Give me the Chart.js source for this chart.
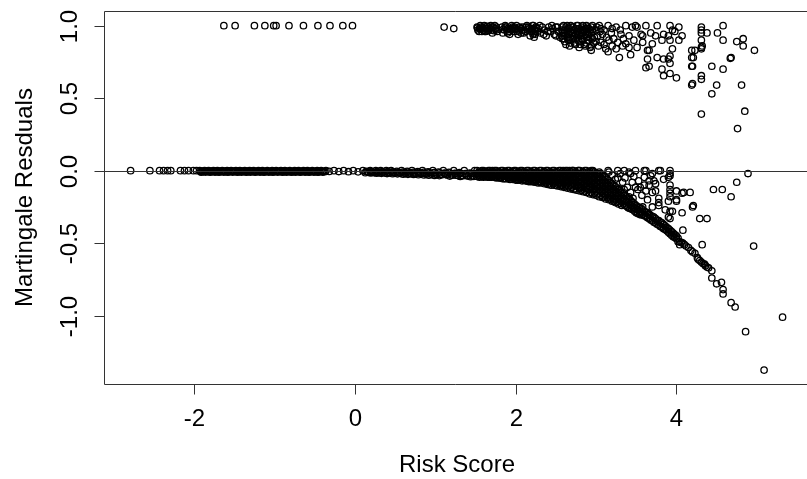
<!DOCTYPE html>
<html>
<head>
<meta charset="utf-8">
<script src="https://cdn.jsdelivr.net/npm/chart.js@4"></script>
<style>
html, body { margin: 0; padding: 0; background: #fff; }
</style>
</head>
<body>
<canvas id="plot" width="807" height="479"></canvas>
<script>
// axis ticks and titles
var xTicks = [-2, 0, 2, 4];
var yTicks = [-1.0, -0.5, 0.0, 0.5, 1.0];
var xTitle = "Risk Score";
var yTitle = "Martingale Resduals";

// points, [risk score, residual]
// events with residual near 1, low scores
var topRow = [[-1.63,1],[-1.49,1],[-1.25,1],[-1.12,1],[-1.01,1],[-0.98,1],[-0.82,1],[-0.64,1],
  [-0.46,1],[-0.31,1],[-0.15,1],[-0.03,1],[1.11,0.99],[1.23,0.98]];

// dense block of events 1.5 .. 3.5
var topCluster = [[1.52,0.99],[1.55,0.98],[1.57,0.99],[1.6,0.97],[1.62,0.99],[1.64,0.98],[1.67,0.99],
  [1.7,0.97],[1.72,0.99],[1.75,0.98],[1.77,0.96],
  [1.83,0.99],[1.86,0.97],[1.88,0.99],[1.9,0.95],[1.93,0.98],[1.96,0.99],[1.98,0.96],[2.0,0.98],
  [2.03,0.94],[2.05,0.99],[2.08,0.97],[2.1,0.95],[2.13,0.99],[2.15,0.97],[2.18,0.93],
  [2.21,1.0],[2.21,0.97],[2.22,0.95],[2.23,0.92],[2.25,0.99],[2.25,0.96],
  [2.28,0.98],[2.31,0.95],[2.33,0.99],[2.36,0.97],[2.38,0.93],[2.41,0.99],[2.43,0.96],[2.46,0.98],
  [2.48,0.94],[2.5,0.99],[2.53,0.96],[2.55,0.92],
  [2.58,0.99],[2.58,0.95],[2.58,0.91],[2.61,0.97],[2.61,0.93],[2.61,0.89],
  [2.64,1.0],[2.64,0.96],[2.64,0.92],[2.67,0.98],[2.67,0.94],[2.67,0.9],[2.67,0.86],
  [2.7,0.99],[2.7,0.95],[2.7,0.91],[2.73,0.97],[2.73,0.93],[2.73,0.88],
  [2.76,1.0],[2.76,0.96],[2.76,0.92],[2.79,0.98],[2.79,0.94],[2.79,0.89],[2.79,0.85],
  [2.82,0.99],[2.82,0.95],[2.82,0.91],[2.85,0.97],[2.85,0.93],[2.85,0.87],
  [2.88,1.0],[2.88,0.96],[2.88,0.92],[2.88,0.88],[2.91,0.98],[2.91,0.94],[2.91,0.9],
  [2.94,0.99],[2.94,0.95],[2.94,0.86],[2.94,0.83],
  [3.0,0.97],[3.02,0.93],[3.0,0.89],[3.03,0.86],[2.98,0.92],[3.05,0.96],
  [3.04,1.0],[3.15,1.0],[3.25,0.99],[3.37,1.0],[3.45,0.99],[3.08,0.94],[3.19,0.95],[3.31,0.94],
  [3.41,0.93],[3.06,0.885],[3.16,0.9],[3.27,0.885],[3.37,0.875],[3.47,0.9],[3.12,0.84],[3.25,0.84],
  [3.41,0.85],[3.29,0.78],[3.43,0.8],
  [3.51,0.99],[3.62,1.0],[3.76,1.0],[3.92,1.0],[4.03,0.99],[3.56,0.94],[3.68,0.95],[3.84,0.94],
  [3.95,0.97],[4.07,0.93],[3.58,0.885],[3.7,0.875],[3.82,0.9],[3.92,0.9],[4.03,0.9],[3.51,0.85],
  [3.66,0.83],[3.49,1.0],[3.58,0.93],[3.74,0.93],[3.9,0.93],[3.98,0.96]];

// second and third layers of the same block, where it prints solid
var topClusterFill = [[1.53,0.97],[1.56,1.0],[1.58,0.96],[1.61,1.0],[1.63,0.96],[1.66,0.97],
  [1.69,1.0],[1.71,0.95],[1.74,1.0],[1.76,0.99],
  [1.84,0.95],[1.87,1.0],[1.89,0.97],[1.92,0.96],[1.95,1.0],[1.97,0.98],[2.01,1.0],[2.04,0.97],
  [2.07,0.95],[2.09,0.99],[2.12,0.96],[2.14,1.0],[2.17,0.98],
  [2.2,0.98],[2.22,1.0],[2.24,0.94],[2.27,0.96],[2.3,1.0],[2.35,0.94],[2.4,0.96],[2.45,1.0],
  [2.52,0.99],[2.5,0.93],
  [2.575,0.97],[2.575,0.93],[2.595,1.0],[2.6,0.95],[2.6,0.91],[2.625,0.99],[2.625,0.95],[2.625,0.87],
  [2.655,0.98],[2.655,0.94],[2.655,0.9],[2.685,1.0],[2.685,0.96],[2.685,0.88],[2.715,0.99],
  [2.715,0.95],[2.715,0.91],[2.745,0.98],[2.745,0.94],[2.745,0.87],[2.775,1.0],[2.775,0.96],
  [2.775,0.9],[2.805,0.97],[2.805,0.93],[2.805,0.87],[2.835,1.0],[2.835,0.95],[2.835,0.9],
  [2.865,0.98],[2.865,0.94],[2.865,0.86],[2.895,0.99],[2.895,0.95],[2.895,0.9],[2.925,0.97],
  [2.925,0.92],[2.925,0.85],[2.955,1.0],[2.955,0.97],[2.955,0.91],[2.97,0.88],
  [3.01,0.99],[3.06,0.98],[3.1,0.97],[3.13,0.92],[3.2,0.98],[3.22,0.91],[3.3,0.97],[3.34,0.91],
  [3.1,0.87],[3.2,0.86],[3.33,0.86],[3.15,0.82],
  [1.525,0.985],[1.545,0.96],[1.565,0.975],[1.59,0.985],[1.615,0.96],[1.645,0.995],[1.655,0.965],
  [1.68,0.98],[1.705,0.99],[1.73,0.965],[1.755,0.97],[1.845,0.975],[1.875,0.99],[1.905,0.98],
  [1.925,0.94],[1.945,0.97],[1.985,0.99],[2.02,0.96],[2.06,0.98],[2.1,0.97],[2.16,0.99],
  [2.19,0.96],[2.215,0.94],[2.235,0.975],[2.26,0.985]];

// events spreading down at high scores
var topScatter = [[3.64,0.83],[3.76,0.78],[3.66,0.72],[3.62,0.71],[3.84,0.77],[3.92,0.74],[3.82,0.7],
  [3.84,0.655],[3.92,0.67],[4.0,0.64],[3.95,0.84],[3.92,0.79],[3.64,0.77],[3.9,0.77],
  [4.19,0.83],[4.19,0.78],[4.19,0.72],
  [4.58,1.0],[4.31,0.99],[4.31,0.97],[4.31,0.95],[4.31,0.9],[4.31,0.85],[4.31,0.84],[4.32,0.86],
  [4.38,0.95],[4.51,0.95],[4.58,0.9],[4.75,0.89],[4.83,0.91],[4.83,0.86],[4.97,0.83],[4.23,0.83],
  [4.21,0.78],[4.2,0.72],[4.68,0.78],[4.67,0.775],[4.44,0.72],[4.58,0.7],[4.31,0.655],[4.31,0.63],
  [4.19,0.59],[4.2,0.6],[4.5,0.59],[4.44,0.53],[4.81,0.59],[4.31,0.39],[4.85,0.41],[4.76,0.29]];

// censored, residual close to 0
var flatBand = [[-2.79,0],[-2.55,0],[-2.43,0],[-2.38,0],[-2.33,0],[-2.29,0],[-2.17,0],[-2.12,0],
  [-2.07,0],[-2.01,0],[-1.97,0],
  [-1.93,0],[-1.9,-0.003],[-1.87,0],[-1.85,-0.003],[-1.82,0],[-1.79,-0.003],[-1.76,0],[-1.73,-0.003],
  [-1.71,0],[-1.68,-0.003],[-1.65,0],[-1.62,-0.003],[-1.59,0],[-1.57,-0.003],[-1.54,0],[-1.51,-0.003],
  [-1.48,0],[-1.45,-0.003],[-1.43,0],[-1.4,-0.003],[-1.37,0],[-1.34,-0.003],[-1.31,0],[-1.29,-0.003],
  [-1.26,0],[-1.23,-0.004],[-1.2,0],[-1.17,-0.004],[-1.15,0],[-1.12,-0.004],[-1.09,0],[-1.06,-0.004],
  [-1.03,0],[-1.01,-0.004],[-0.98,0],[-0.95,-0.004],[-0.92,0],[-0.89,-0.004],[-0.87,0],[-0.84,-0.005],
  [-0.81,0],[-0.78,-0.005],[-0.75,0],[-0.73,-0.005],[-0.7,0],[-0.67,-0.005],[-0.64,0],[-0.61,-0.005],
  [-0.59,0],[-0.56,-0.005],[-0.53,0],[-0.5,-0.005],[-0.47,0],[-0.45,-0.006],[-0.42,0],[-0.39,-0.006],
  [-0.36,0],[-0.32,-0.005],[-0.26,0],[-0.2,-0.006],[-0.14,0],[-0.08,-0.007],[-0.02,0],[0.04,-0.008],
  [0.1,0],[0.16,-0.008],[0.19,0],[0.22,-0.01],[0.26,0],[0.29,-0.01],[0.32,0],[0.35,-0.011],
  [0.39,0],[0.42,-0.012],[0.45,0],[0.48,-0.012],[0.52,-0.004],[0.55,-0.014],[0.58,0],[0.61,-0.015],
  [0.65,-0.005],[0.68,-0.016],[0.71,0],[0.74,-0.017],[0.78,-0.006],[0.81,-0.019],[0.84,0],
  [0.87,-0.02],[0.91,-0.008],[0.94,-0.022],[0.97,0],[1.0,-0.023],[1.04,-0.01],[1.07,-0.025],
  [1.1,0],[1.13,-0.027],[1.17,-0.012],[1.2,-0.029],[1.23,0],[1.26,-0.031],[1.3,-0.014],[1.33,-0.033],
  [1.36,0],[1.39,-0.035],[1.43,-0.016],[1.46,-0.037],[1.49,0],[1.47,-0.02]];

// further rows of the flat band
var flatBandFill = [[-1.91,-0.011],[-1.86,-0.01],[-1.8,-0.011],[-1.74,-0.01],[-1.69,-0.011],
  [-1.63,-0.01],[-1.58,-0.011],[-1.52,-0.01],[-1.46,-0.011],[-1.41,-0.01],[-1.35,-0.011],
  [-1.3,-0.01],[-1.24,-0.011],[-1.18,-0.01],[-1.13,-0.011],[-1.07,-0.01],[-1.02,-0.011],
  [-0.96,-0.01],[-0.9,-0.011],[-0.85,-0.01],[-0.79,-0.011],[-0.74,-0.01],[-0.68,-0.011],
  [-0.62,-0.01],[-0.57,-0.011],[-0.51,-0.01],[-0.46,-0.011],[-0.4,-0.01],
  [0.13,-0.014],[0.2,-0.016],[0.27,-0.017],[0.33,-0.018],[0.4,-0.02],[0.47,-0.021],[0.53,-0.022],
  [0.6,-0.024],[0.66,-0.025],[0.73,-0.026],[0.79,-0.028],[0.86,-0.029],[0.92,-0.031],[0.99,-0.033],
  [1.05,-0.034],[1.12,-0.02],[1.18,-0.037],[1.25,-0.02],[1.31,-0.04],[1.38,-0.022],[1.44,-0.042],
  [-1.92,-0.006],[-1.885,-0.006],[-1.835,-0.007],[-1.805,-0.006],[-1.775,-0.007],[-1.745,-0.006],
  [-1.72,-0.007],[-1.695,-0.006],[-1.665,-0.007],[-1.635,-0.006],[-1.605,-0.007],[-1.58,-0.006],
  [-1.555,-0.007],[-1.525,-0.006],[-1.495,-0.007],[-1.465,-0.006],[-1.44,-0.007],[-1.415,-0.006],
  [-1.385,-0.007],[-1.355,-0.006],[-1.325,-0.007],[-1.3,-0.006],[-1.275,-0.007],[-1.245,-0.006],
  [-1.215,-0.007],[-1.185,-0.006],[-1.16,-0.007],[-1.135,-0.006],[-1.105,-0.007],[-1.075,-0.006],
  [-1.045,-0.007],[-1.02,-0.006],[-0.995,-0.007],[-0.965,-0.006],[-0.935,-0.007],[-0.905,-0.006],
  [-0.88,-0.007],[-0.855,-0.006],[-0.825,-0.007],[-0.795,-0.006],[-0.765,-0.007],[-0.74,-0.006],
  [-0.715,-0.007],[-0.685,-0.006],[-0.655,-0.007],[-0.625,-0.006],[-0.6,-0.007],[-0.575,-0.006],
  [-0.545,-0.007],[-0.515,-0.006],[-0.485,-0.007],[-0.46,-0.006],[-0.435,-0.007],[-0.405,-0.006],
  [-0.375,-0.007],
  [0.14,-0.005],[0.175,-0.012],[0.205,-0.006],[0.24,-0.013],[0.275,-0.006],[0.305,-0.014],
  [0.34,-0.007],[0.37,-0.015],[0.405,-0.007],[0.435,-0.016],[0.465,-0.008],[0.5,-0.017],
  [0.535,-0.009],[0.565,-0.018],[0.595,-0.009],[0.63,-0.019],[0.665,-0.01],[0.695,-0.02],
  [0.725,-0.011],[0.76,-0.021],[0.795,-0.012],[0.825,-0.022],[0.855,-0.012],[0.89,-0.024],
  [0.925,-0.013],[0.955,-0.025],[0.985,-0.014],[1.02,-0.026],[1.055,-0.015],[1.085,-0.028],
  [1.115,-0.016],[1.15,-0.03],[1.185,-0.017],[1.215,-0.031],[1.245,-0.018],[1.28,-0.033],
  [1.315,-0.019],[1.345,-0.035],[1.375,-0.02],[1.41,-0.037],[1.445,-0.021],[1.48,-0.039]];

// censored, filled area between 0 and the lower edge
var curveBand = [[1.52,0],[1.52,-0.02],[1.52,-0.04],[1.56,-0.01],[1.56,-0.035],
  [1.6,0],[1.6,-0.02],[1.6,-0.045],[1.64,-0.01],[1.64,-0.04],
  [1.68,0],[1.68,-0.025],[1.68,-0.045],[1.72,-0.01],[1.72,-0.04],
  [1.76,0],[1.76,-0.02],[1.76,-0.05],[1.8,-0.01],[1.8,-0.035],[1.8,-0.05],
  [1.84,0],[1.84,-0.025],[1.84,-0.055],[1.88,-0.01],[1.88,-0.04],[1.88,-0.055],
  [1.92,0],[1.92,-0.03],[1.92,-0.06],[1.96,-0.015],[1.96,-0.04],[1.96,-0.06],
  [2.0,0],[2.0,-0.03],[2.0,-0.065],[2.04,-0.01],[2.04,-0.04],[2.04,-0.065],
  [2.08,0],[2.08,-0.025],[2.08,-0.05],[2.08,-0.07],[2.12,-0.015],[2.12,-0.04],[2.12,-0.07],
  [2.16,0],[2.16,-0.03],[2.16,-0.055],[2.16,-0.075],[2.2,-0.01],[2.2,-0.04],[2.2,-0.075],
  [2.24,0],[2.24,-0.03],[2.24,-0.06],[2.24,-0.08],[2.28,-0.015],[2.28,-0.045],[2.28,-0.085],
  [2.32,0],[2.32,-0.03],[2.32,-0.06],[2.32,-0.085],[2.36,-0.01],[2.36,-0.04],[2.36,-0.07],[2.36,-0.09],
  [2.4,0],[2.4,-0.03],[2.4,-0.06],[2.4,-0.095],[2.44,-0.015],[2.44,-0.045],[2.44,-0.075],[2.44,-0.1],
  [2.48,0],[2.48,-0.03],[2.48,-0.06],[2.48,-0.1],[2.52,-0.01],[2.52,-0.04],[2.52,-0.07],[2.52,-0.105],
  [2.56,0],[2.56,-0.03],[2.56,-0.06],[2.56,-0.09],[2.56,-0.11],
  [2.6,-0.015],[2.6,-0.045],[2.6,-0.075],[2.6,-0.115],
  [2.64,0],[2.64,-0.03],[2.64,-0.06],[2.64,-0.09],[2.64,-0.12],
  [2.68,-0.01],[2.68,-0.04],[2.68,-0.07],[2.68,-0.1],[2.68,-0.125],
  [2.72,0],[2.72,-0.03],[2.72,-0.06],[2.72,-0.09],[2.72,-0.13],
  [2.76,-0.015],[2.76,-0.045],[2.76,-0.075],[2.76,-0.105],[2.76,-0.135],
  [2.8,0],[2.8,-0.03],[2.8,-0.06],[2.8,-0.09],[2.8,-0.12],[2.8,-0.14],
  [2.84,-0.01],[2.84,-0.04],[2.84,-0.07],[2.84,-0.1],[2.84,-0.145],
  [2.88,0],[2.88,-0.03],[2.88,-0.06],[2.88,-0.09],[2.88,-0.12],[2.88,-0.15],
  [2.92,-0.015],[2.92,-0.045],[2.92,-0.075],[2.92,-0.11],[2.92,-0.16],
  [2.96,-0.005],[2.96,-0.035],[2.96,-0.065],[2.96,-0.095],[2.96,-0.13],[2.96,-0.165],
  [3.0,-0.02],[3.0,-0.05],[3.0,-0.08],[3.0,-0.11],[3.0,-0.14],[3.0,-0.17],
  [3.04,-0.01],[3.04,-0.04],[3.04,-0.07],[3.04,-0.1],[3.04,-0.135],[3.04,-0.18],
  [3.08,-0.03],[3.08,-0.06],[3.08,-0.09],[3.08,-0.12],[3.08,-0.155],[3.08,-0.185],
  [3.12,-0.05],[3.12,-0.08],[3.12,-0.11],[3.12,-0.14],[3.12,-0.17],[3.12,-0.195],
  [3.16,-0.07],[3.16,-0.1],[3.16,-0.13],[3.16,-0.16],[3.16,-0.2],
  [3.2,-0.09],[3.2,-0.12],[3.2,-0.15],[3.2,-0.18],[3.2,-0.21],
  [3.24,-0.11],[3.24,-0.14],[3.24,-0.17],[3.24,-0.2],[3.24,-0.22],
  [3.28,-0.13],[3.28,-0.16],[3.28,-0.19],[3.28,-0.23],
  [3.32,-0.15],[3.32,-0.18],[3.32,-0.21],[3.32,-0.24]];

// in-between columns of the same area
var curveBandFill = [[1.54,-0.01],[1.54,-0.03],[1.58,0],[1.58,-0.025],[1.58,-0.04],
  [1.62,-0.01],[1.62,-0.035],[1.66,0],[1.66,-0.02],[1.66,-0.04],[1.7,-0.015],[1.7,-0.045],
  [1.74,0],[1.74,-0.025],[1.74,-0.045],[1.78,-0.01],[1.78,-0.04],[1.82,0],[1.82,-0.02],[1.82,-0.045],
  [1.86,-0.01],[1.86,-0.035],[1.86,-0.055],[1.9,0],[1.9,-0.02],[1.9,-0.045],
  [1.94,-0.01],[1.94,-0.035],[1.94,-0.06],[1.98,0],[1.98,-0.025],[1.98,-0.05],
  [2.02,-0.015],[2.02,-0.045],[2.02,-0.065],[2.06,0],[2.06,-0.03],[2.06,-0.06],
  [2.1,-0.01],[2.1,-0.04],[2.1,-0.065],[2.14,0],[2.14,-0.02],[2.14,-0.05],[2.14,-0.07],
  [2.18,-0.015],[2.18,-0.045],[2.18,-0.075],[2.22,0],[2.22,-0.025],[2.22,-0.05],[2.22,-0.075],
  [2.26,-0.01],[2.26,-0.04],[2.26,-0.07],[2.3,0],[2.3,-0.02],[2.3,-0.05],[2.3,-0.08],
  [2.34,-0.015],[2.34,-0.045],[2.34,-0.075],[2.38,0],[2.38,-0.025],[2.38,-0.055],[2.38,-0.085],
  [2.42,-0.01],[2.42,-0.04],[2.42,-0.07],[2.42,-0.09],[2.46,0],[2.46,-0.02],[2.46,-0.05],[2.46,-0.08],
  [2.5,-0.015],[2.5,-0.045],[2.5,-0.075],[2.5,-0.1],[2.54,0],[2.54,-0.025],[2.54,-0.055],[2.54,-0.085],
  [2.58,-0.01],[2.58,-0.04],[2.58,-0.07],[2.58,-0.1],[2.62,0],[2.62,-0.02],[2.62,-0.05],[2.62,-0.08],
  [2.62,-0.11],[2.66,-0.015],[2.66,-0.045],[2.66,-0.075],[2.66,-0.11],
  [2.7,0],[2.7,-0.025],[2.7,-0.055],[2.7,-0.085],[2.7,-0.115],
  [2.74,-0.01],[2.74,-0.04],[2.74,-0.07],[2.74,-0.1],[2.74,-0.125],
  [2.78,0],[2.78,-0.02],[2.78,-0.05],[2.78,-0.08],[2.78,-0.115],
  [2.82,-0.015],[2.82,-0.045],[2.82,-0.075],[2.82,-0.105],[2.82,-0.135],
  [2.86,0],[2.86,-0.025],[2.86,-0.055],[2.86,-0.085],[2.86,-0.115],[2.86,-0.14],
  [2.9,-0.01],[2.9,-0.04],[2.9,-0.07],[2.9,-0.1],[2.9,-0.13],
  [2.94,0],[2.94,-0.02],[2.94,-0.05],[2.94,-0.08],[2.94,-0.115],[2.94,-0.15],
  [2.98,-0.01],[2.98,-0.04],[2.98,-0.07],[2.98,-0.1],[2.98,-0.125],[2.98,-0.155],
  [3.02,-0.025],[3.02,-0.055],[3.02,-0.085],[3.02,-0.12],[3.02,-0.16],
  [3.06,-0.02],[3.06,-0.05],[3.06,-0.08],[3.06,-0.11],[3.06,-0.14],[3.06,-0.17],
  [3.1,-0.04],[3.1,-0.07],[3.1,-0.1],[3.1,-0.13],[3.1,-0.16],[3.1,-0.18],
  [3.14,-0.06],[3.14,-0.09],[3.14,-0.12],[3.14,-0.15],[3.14,-0.185],
  [3.18,-0.08],[3.18,-0.11],[3.18,-0.14],[3.18,-0.17],[3.18,-0.195],
  [3.22,-0.1],[3.22,-0.13],[3.22,-0.16],[3.22,-0.19],[3.22,-0.21],
  [3.26,-0.12],[3.26,-0.15],[3.26,-0.18],[3.26,-0.215],[3.3,-0.14],[3.3,-0.17],[3.3,-0.2],[3.3,-0.225],
  [1.53,-0.03],[1.55,-0.045],[1.57,-0.015],[1.59,-0.035],[1.61,-0.005],[1.63,-0.025],[1.65,-0.045],
  [1.67,-0.01],[1.69,-0.035],[1.71,0],[1.73,-0.02],[1.75,-0.045],[1.77,-0.01],[1.79,-0.03],
  [1.81,-0.05],[1.83,-0.015],[1.85,-0.04],[1.87,-0.005],[1.89,-0.025],[1.91,-0.05],[1.93,-0.015],
  [1.95,-0.045],[1.97,-0.005],[1.99,-0.035],[2.01,-0.055],[2.03,-0.02],[2.05,-0.05],[2.07,-0.01],
  [2.09,-0.035],[2.11,-0.06],[2.13,-0.025],[2.15,-0.045],[2.17,-0.01],[2.19,-0.06],[2.21,-0.035],
  [2.23,-0.015],[2.25,-0.07],[2.27,-0.05],[2.29,-0.025],[2.31,-0.075],[2.33,-0.045],[2.35,-0.005],
  [2.37,-0.055],[2.39,-0.08],[2.41,-0.02],[2.43,-0.06],[2.45,-0.035],[2.47,-0.09],[2.49,-0.01],
  [2.51,-0.055],[2.53,-0.085],[2.55,-0.04],[2.57,-0.1],[2.59,-0.06],[2.61,-0.025],[2.63,-0.1],
  [2.65,-0.065]];

// censored, the lower edge at high scores
var curveEdge = [[3.36,-0.17],[3.36,-0.2],[3.36,-0.24],[3.4,-0.19],[3.4,-0.22],[3.4,-0.255],
  [3.44,-0.21],[3.44,-0.24],[3.44,-0.265],[3.48,-0.23],[3.48,-0.26],[3.48,-0.28],
  [3.52,-0.25],[3.52,-0.27],[3.52,-0.295],[3.56,-0.26],[3.56,-0.29],[3.56,-0.305],
  [3.6,-0.28],[3.6,-0.31],[3.64,-0.29],[3.64,-0.325],[3.68,-0.31],[3.68,-0.34],
  [3.72,-0.32],[3.72,-0.355],[3.76,-0.34],[3.76,-0.37],[3.8,-0.355],[3.8,-0.385],
  [3.84,-0.37],[3.84,-0.4],[3.88,-0.39],[3.88,-0.415],[3.92,-0.41],[3.92,-0.435],
  [3.96,-0.43],[3.96,-0.455],[4.0,-0.45],[4.0,-0.47],[4.04,-0.49],[4.04,-0.51],
  [4.08,-0.5],[4.12,-0.52],[4.15,-0.53],[4.18,-0.55],[4.23,-0.57],[4.26,-0.6],[4.29,-0.62],
  [4.33,-0.64],[4.36,-0.655],[4.4,-0.67],[4.44,-0.69],[4.44,-0.74],[4.5,-0.78],[4.56,-0.77],
  [4.58,-0.82],[4.58,-0.85],[4.68,-0.91],[4.73,-0.94],
  [3.34,-0.16],[3.34,-0.19],[3.34,-0.23],[3.38,-0.18],[3.38,-0.21],[3.38,-0.245],
  [3.42,-0.2],[3.42,-0.23],[3.42,-0.26],[3.46,-0.22],[3.46,-0.25],[3.46,-0.27],
  [3.5,-0.24],[3.5,-0.265],[3.5,-0.29],[3.54,-0.255],[3.54,-0.28],[3.54,-0.3],
  [3.58,-0.27],[3.58,-0.3],[3.62,-0.285],[3.62,-0.315],[3.66,-0.3],[3.66,-0.33],
  [3.7,-0.315],[3.7,-0.345],[3.74,-0.33],[3.74,-0.36],[3.78,-0.345],[3.78,-0.375],
  [3.82,-0.36],[3.82,-0.39],[3.86,-0.38],[3.86,-0.405],[3.9,-0.4],[3.9,-0.425],
  [3.94,-0.42],[3.94,-0.445],[3.98,-0.44],[3.98,-0.46],[4.02,-0.465],[4.02,-0.49],
  [4.06,-0.495],[4.1,-0.51],[4.2,-0.56],[4.27,-0.61],[4.31,-0.63],[4.35,-0.645],[4.38,-0.665]];

// censored, loose points above the edge
var lowScatter = [[2.59,0],[2.67,0],[2.71,0],[2.78,0],[2.84,-0.01],[2.96,0],[3.04,-0.02],
  [3.15,0],[3.16,-0.01],[3.27,0],[3.35,0],[3.41,-0.01],[3.49,0],[3.6,0],[3.7,-0.02],[3.78,0],
  [3.43,-0.02],[3.8,0],[3.92,-0.02],[3.27,-0.05],[3.33,-0.08],[3.39,-0.115],[3.29,-0.125],
  [3.53,-0.07],[3.6,-0.1],[3.66,-0.07],[3.49,-0.115],[3.62,-0.14],[3.74,-0.09],[3.7,-0.15],
  [3.92,-0.1],[3.92,-0.13],[3.92,-0.155],[3.92,-0.18],[4.09,-0.15],[4.17,-0.15],
  [3.78,-0.19],[3.78,-0.22],[3.78,-0.24],[3.9,-0.21],[4.0,-0.2],[3.95,-0.28],[4.07,-0.29],
  [3.9,-0.32],[4.21,-0.24],[3.58,-0.25],[3.66,-0.3],[3.43,-0.15],[3.41,-0.18],
  [3.62,0],[3.92,0],[3.92,-0.035],[3.9,-0.046],[3.6,-0.046],[3.68,-0.035],[3.55,-0.115],
  [3.66,-0.1],[3.72,-0.07],[3.74,-0.14],[3.57,-0.17],[4.0,-0.14],
  [3.2,-0.03],[3.24,-0.06],[3.3,-0.02],[3.36,-0.05],[3.45,-0.08],[3.47,-0.04],[3.52,-0.13],
  [3.35,-0.13],[3.46,-0.19],[3.64,-0.2],[3.7,-0.25],[3.84,-0.06],[3.86,-0.27],
  [4.89,-0.02],[4.75,-0.08],[4.68,-0.18],[4.46,-0.13],[4.57,-0.13],[4.29,-0.33],[4.38,-0.33],
  [4.32,-0.51],[4.2,-0.25],[4.07,-0.155],[3.92,-0.28],[3.92,-0.33],[4.0,-0.21],[4.08,-0.41]];

// far outliers
var outliers = [[4.96,-0.52],[5.32,-1.01],[4.86,-1.11],[5.09,-1.375]];

var groups = [topRow, topCluster, topClusterFill, topScatter, flatBand, flatBandFill,
  curveBand, curveBandFill, curveEdge, lowScatter, outliers];

var rFont = "24px 'Liberation Sans', Arial, sans-serif";

// R style frame, ticks, labels and the h=0 line
var rAxes = {
  id: "rAxes",
  afterDraw: function(chart) {
    var ctx = chart.ctx;
    var area = chart.chartArea;
    var xs = chart.scales.x;
    var ys = chart.scales.y;
    ctx.save();
    ctx.strokeStyle = "#333";
    ctx.lineWidth = 1;

    var y0 = Math.round(ys.getPixelForValue(0)) + 0.5;
    ctx.beginPath();
    ctx.moveTo(area.left, y0);
    ctx.lineTo(chart.width, y0);
    ctx.stroke();

    var l = Math.round(area.left) + 0.5;
    var t = Math.round(area.top) + 0.5;
    var b = Math.round(area.bottom) + 0.5;
    ctx.beginPath();
    ctx.moveTo(chart.width, t);
    ctx.lineTo(l, t);
    ctx.lineTo(l, b);
    ctx.lineTo(chart.width, b);
    ctx.stroke();

    ctx.fillStyle = "#000";
    ctx.font = rFont;
    ctx.textAlign = "center";
    ctx.textBaseline = "alphabetic";

    xTicks.forEach(function(v) {
      var px = Math.round(xs.getPixelForValue(v)) + 0.5;
      ctx.beginPath();
      ctx.moveTo(px, b);
      ctx.lineTo(px, b + 10);
      ctx.stroke();
      ctx.fillText(String(v), px, 426);
    });

    yTicks.forEach(function(v) {
      var py = Math.round(ys.getPixelForValue(v)) + 0.5;
      ctx.beginPath();
      ctx.moveTo(l, py);
      ctx.lineTo(l - 10, py);
      ctx.stroke();
      ctx.save();
      ctx.translate(77, py);
      ctx.rotate(-Math.PI / 2);
      ctx.fillText(v.toFixed(1), 0, 0);
      ctx.restore();
    });

    ctx.fillText(xTitle, 457, 472);
    ctx.save();
    ctx.translate(32, (area.top + area.bottom) / 2);
    ctx.rotate(-Math.PI / 2);
    ctx.fillText(yTitle, 0, 0);
    ctx.restore();

    ctx.restore();
  }
};

var config = {
  type: "scatter",
  data: {
    datasets: groups.map(function(g) {
      return {
        data: g.map(function(p) { return { x: p[0], y: p[1] }; }),
        backgroundColor: "rgba(0,0,0,0)",
        borderColor: "#000",
        borderWidth: 1.3,
        pointRadius: 3.2,
        pointStyle: "circle"
      };
    })
  },
  options: {
    responsive: false,
    animation: false,
    devicePixelRatio: 1,
    layout: { padding: { left: 104, top: 11, right: 0, bottom: 95 } },
    plugins: { legend: { display: false }, tooltip: { enabled: false } },
    scales: {
      x: { type: "linear", min: -3.121, max: 5.558, display: false },
      y: { type: "linear", min: -1.471, max: 1.101, display: false }
    }
  },
  plugins: [rAxes]
};

var chart = new Chart(document.getElementById("plot"), config);
</script>
</body>
</html>
